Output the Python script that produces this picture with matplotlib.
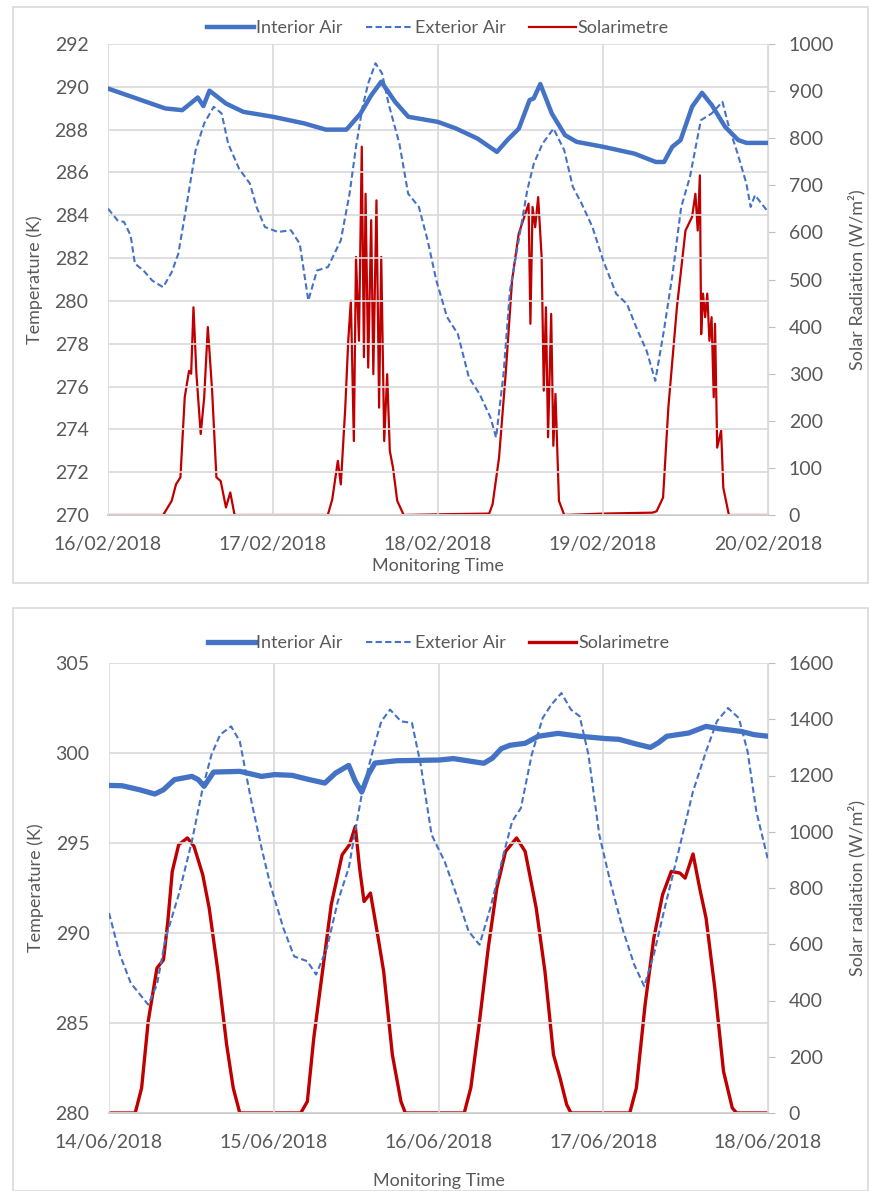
import matplotlib.pyplot as plt
from matplotlib.patches import Rectangle

# ---- top panel: 16/02/2018 - 20/02/2018 (x = days since 16/02 00:00) ----
feb_ticks = ['16/02/2018', '17/02/2018', '18/02/2018', '19/02/2018', '20/02/2018']

feb_int_t = [0, 0.347, 0.45, 0.544, 0.578, 0.615, 0.715, 0.82, 1.0, 1.19, 1.32, 1.445,
             1.53, 1.595, 1.656, 1.74, 1.82, 2.0, 2.11, 2.24, 2.357, 2.42, 2.49, 2.555,
             2.58, 2.62, 2.69, 2.77, 2.84, 3.0, 3.19, 3.32, 3.37, 3.42, 3.47, 3.54, 3.6,
             3.66, 3.74, 3.82, 3.87, 4.0]
feb_int = [289.92, 288.99, 288.91, 289.5, 289.1, 289.82, 289.22, 288.83, 288.6, 288.29,
           288.0, 288.0, 288.75, 289.6, 290.24, 289.3, 288.6, 288.36, 288.05, 287.58,
           286.96, 287.51, 288.05, 289.38, 289.46, 290.13, 288.75, 287.74, 287.43, 287.2,
           286.88, 286.49, 286.49, 287.2, 287.51, 289.07, 289.72, 289.14, 288.13, 287.51,
           287.38, 287.38]

feb_ext_t = [0, 0.058, 0.097, 0.137, 0.163, 0.215, 0.268, 0.334, 0.386, 0.426, 0.478,
             0.531, 0.583, 0.641, 0.689, 0.728, 0.794, 0.86, 0.9, 0.951, 1.03, 1.109,
             1.162, 1.214, 1.267, 1.333, 1.411, 1.464, 1.503, 1.543, 1.577, 1.621, 1.661,
             1.7, 1.766, 1.819, 1.884, 1.937, 1.99, 2.055, 2.12, 2.187, 2.252, 2.318,
             2.352, 2.397, 2.436, 2.489, 2.541, 2.581, 2.634, 2.7, 2.765, 2.817, 2.87,
             2.936, 3.001, 3.08, 3.145, 3.21, 3.264, 3.317, 3.369, 3.422, 3.474, 3.527,
             3.593, 3.658, 3.724, 3.763, 3.816, 3.869, 3.895, 3.921, 4.0]
feb_ext = [284.31, 283.76, 283.69, 283.06, 281.74, 281.42, 280.95, 280.64, 281.34, 282.2,
           284.55, 287.04, 288.29, 289.07, 288.75, 287.35, 286.18, 285.48, 284.39, 283.45,
           283.22, 283.3, 282.67, 280.02, 281.42, 281.58, 282.83, 285.01, 287.2, 289.07,
           290.16, 291.1, 290.63, 289.22, 287.35, 285.01, 284.39, 282.83, 280.95, 279.24,
           278.46, 276.43, 275.65, 274.56, 273.62, 276.58, 280.48, 282.83, 285.17, 286.42,
           287.35, 288.05, 287.04, 285.33, 284.55, 283.45, 281.89, 280.33, 279.86, 278.61,
           277.68, 276.27, 278.61, 281.27, 284.39, 285.79, 288.44, 288.75, 289.3, 288.13,
           286.88, 285.48, 284.39, 284.94, 284.16]

feb_sol_t = [0, 0.334, 0.386, 0.412, 0.439, 0.465, 0.491, 0.504, 0.518, 0.536, 0.562,
             0.583, 0.605, 0.631, 0.657, 0.683, 0.715, 0.741, 0.767,
             1.332, 1.359, 1.393, 1.411, 1.438, 1.456, 1.472, 1.49, 1.503, 1.521, 1.538,
             1.551, 1.561, 1.577, 1.595, 1.608, 1.627, 1.643, 1.656, 1.674, 1.692, 1.708,
             1.727, 1.753, 1.792,
             2.1, 2.31, 2.331, 2.37, 2.41, 2.449, 2.489, 2.523, 2.549, 2.56, 2.573, 2.589,
             2.607, 2.628, 2.641, 2.654, 2.667, 2.686, 2.699, 2.712, 2.733, 2.765,
             3.0, 3.3, 3.325, 3.364, 3.396, 3.448, 3.5, 3.54, 3.56, 3.574, 3.587, 3.595,
             3.606, 3.619, 3.632, 3.645, 3.658, 3.671, 3.679, 3.692, 3.716, 3.729, 3.763,
             4.0]
feb_sol = [0, 0, 30, 65, 80, 250, 306, 300, 441, 299, 172, 250, 399, 264, 80, 72, 16, 48, 0,
           0, 33, 115, 65, 228, 370, 455, 157, 548, 370, 782, 335, 682, 313, 626, 299,
           668, 228, 548, 157, 299, 136, 101, 30, 0,
           2, 3, 23, 122, 299, 498, 597, 633, 661, 406, 654, 611, 675, 548, 264, 441, 165,
           427, 147, 257, 30, 0,
           3, 5, 8, 37, 228, 441, 604, 633, 682, 604, 721, 384, 470, 420, 470, 370, 420,
           250, 406, 143, 179, 58, 0, 0]

# ---- bottom panel: 14/06/2018 - 18/06/2018 ----
jun_ticks = ['14/06/2018', '15/06/2018', '16/06/2018', '17/06/2018', '18/06/2018']

jun_int_t = [0, 0.08, 0.185, 0.278, 0.331, 0.397, 0.503, 0.542, 0.577, 0.635, 0.794,
             0.926, 1.005, 1.11, 1.217, 1.31, 1.376, 1.455, 1.495, 1.534, 1.574, 1.614,
             1.746, 2.005, 2.09, 2.275, 2.328, 2.381, 2.434, 2.526, 2.606, 2.725, 2.857,
             3.016, 3.095, 3.2, 3.286, 3.333, 3.386, 3.519, 3.624, 3.704, 3.836, 3.915, 4.0]
jun_int = [298.2, 298.18, 297.96, 297.72, 297.96, 298.52, 298.7, 298.52, 298.15, 298.94,
           298.98, 298.7, 298.8, 298.76, 298.52, 298.33, 298.89, 299.31, 298.43, 297.83,
           298.8, 299.44, 299.57, 299.61, 299.69, 299.43, 299.72, 300.24, 300.43, 300.54,
           300.93, 301.09, 300.93, 300.8, 300.76, 300.5, 300.31, 300.56, 300.93, 301.11,
           301.48, 301.35, 301.2, 301.02, 300.93]

jun_ext_t = [0, 0.066, 0.132, 0.238, 0.291, 0.344, 0.423, 0.503, 0.569, 0.622, 0.675,
             0.741, 0.794, 0.86, 0.926, 0.979, 1.058, 1.124, 1.204, 1.257, 1.323, 1.389,
             1.455, 1.534, 1.6, 1.653, 1.706, 1.772, 1.839, 1.892, 1.958, 2.037, 2.116,
             2.183, 2.249, 2.315, 2.394, 2.447, 2.5, 2.566, 2.632, 2.685, 2.746, 2.804,
             2.857, 2.91, 2.976, 3.042, 3.122, 3.188, 3.249, 3.307, 3.373, 3.452, 3.545,
             3.624, 3.69, 3.757, 3.823, 3.876, 3.929, 4.0]
jun_ext = [291.11, 288.8, 287.22, 286.02, 287.13, 289.72, 292.13, 295.09, 298.06, 299.91,
           301.02, 301.48, 300.65, 297.5, 294.72, 292.69, 290.28, 288.7, 288.43, 287.69,
           289.17, 291.76, 293.61, 297.69, 300.09, 301.76, 302.41, 301.76, 301.67, 299.35,
           295.46, 293.98, 291.94, 290.09, 289.35, 291.39, 294.35, 296.2, 296.94, 299.91,
           301.94, 302.69, 303.33, 302.41, 302.04, 299.91, 295.46, 292.87, 290.09, 288.24,
           287.04, 288.8, 291.39, 294.35, 297.87, 300.09, 301.76, 302.5, 301.94, 300.09,
           296.76, 294.07]

jun_sol_t = [0, 0.159, 0.198, 0.238, 0.291, 0.331, 0.357, 0.384, 0.423, 0.476, 0.516,
             0.569, 0.608, 0.661, 0.714, 0.754, 0.794,
             1.164, 1.204, 1.243, 1.296, 1.349, 1.415, 1.46, 1.495, 1.521, 1.548, 1.587,
             1.627, 1.667, 1.72, 1.772, 1.799,
             2.156, 2.196, 2.249, 2.302, 2.354, 2.407, 2.474, 2.526, 2.593, 2.646, 2.698,
             2.738, 2.778, 2.804,
             3.161, 3.201, 3.254, 3.307, 3.36, 3.413, 3.466, 3.497, 3.545, 3.585, 3.624,
             3.677, 3.73, 3.783, 3.81, 4.0]
jun_sol = [0, 0, 89, 326, 515, 545, 681, 859, 954, 978, 948, 847, 729, 504, 243, 89, 0,
           0, 41, 267, 504, 741, 918, 954, 1019, 871, 752, 782, 646, 504, 207, 41, 0,
           0, 89, 326, 587, 800, 930, 978, 930, 729, 504, 207, 124, 30, 0,
           0, 89, 385, 622, 776, 859, 853, 835, 921, 800, 693, 444, 148, 18, 0, 0]

BLUE = '#4472C4'
RED = '#C00000'
GREY = '#595959'
GRID = '#D9D9D9'

plt.rcParams['font.family'] = ['Lato', 'DejaVu Sans']
plt.rcParams['font.size'] = 13
plt.rcParams['text.color'] = GREY
plt.rcParams['axes.labelcolor'] = GREY
plt.rcParams['xtick.color'] = GREY
plt.rcParams['ytick.color'] = GREY

W, H = 869, 1191
fig = plt.figure(figsize=(W / 100, H / 100), dpi=100)

# outer chart frames
for (x0, y0, x1, y1) in [(13, 7, 868, 583), (13, 608, 868, 1191)]:
    fig.patches.append(Rectangle((x0 / W, 1 - y1 / H), (x1 - x0) / W, (y1 - y0) / H,
                                 transform=fig.transFigure, fill=False,
                                 edgecolor=GRID, linewidth=1.2))


def panel(rect, t_int, v_int, t_ext, v_ext, t_sol, v_sol, ylim, ystep, y2lim, y2step,
          ticks, y2label, sol_lw, int_lw, legend_y, xlab_pad):
    ax = fig.add_axes(rect)
    ax2 = ax.twinx()
    # temperatures on top of the solar line
    ax2.set_zorder(0)
    ax.set_zorder(1)
    ax.patch.set_visible(False)

    l1, = ax.plot(t_int, v_int, color=BLUE, lw=int_lw, solid_joinstyle='round')
    l2, = ax.plot(t_ext, v_ext, color=BLUE, lw=1.5, ls=(0, (3, 1.6)))
    l3, = ax2.plot(t_sol, v_sol, color=RED, lw=sol_lw)

    ax.set_xlim(0, 4)
    ax.set_ylim(*ylim)
    ax.set_yticks(list(range(ylim[0], ylim[1] + 1, ystep)))
    ax.set_xticks(range(5))
    ax.set_xticklabels(ticks)
    ax2.set_ylim(*y2lim)
    ax2.set_yticks(list(range(y2lim[0], y2lim[1] + 1, y2step)))

    for a in (ax, ax2):
        for s in a.spines.values():
            s.set_visible(False)
    ax2.spines['right'].set_visible(True)
    ax2.spines['right'].set_color(GRID)
    ax2.spines['bottom'].set_visible(True)
    ax2.spines['bottom'].set_color('#BFBFBF')
    ax2.spines['bottom'].set_linewidth(1.2)

    ax.grid(True, color=GRID, lw=1.2)
    ax.set_axisbelow(True)
    ax.tick_params(axis='y', length=0, pad=14, labelsize=14)
    ax.tick_params(axis='x', length=0, pad=15, labelsize=14)
    ax2.tick_params(axis='y', length=5, color='#BFBFBF', pad=10, labelsize=14)

    ax.set_ylabel('Temperature (K)', fontsize=13, labelpad=8)
    ax2.set_ylabel(y2label, fontsize=13, labelpad=10)
    ax.set_xlabel('Monitoring Time', fontsize=13, labelpad=xlab_pad)

    ax.legend([l1, l2, l3], ['Interior Air', 'Exterior Air', 'Solarimetre'],
              loc='center', bbox_to_anchor=(0.5, legend_y), ncol=3, frameon=False,
              handlelength=2.6, handletextpad=0.1, columnspacing=1.3, fontsize=13)
    return ax, ax2


panel([108 / W, 1 - 515 / H, 660 / W, 471 / H], feb_int_t, feb_int, feb_ext_t, feb_ext,
      feb_sol_t, feb_sol, (270, 292), 2, (0, 1000), 100, feb_ticks,
      'Solar Radiation (W/m²)', 1.6, 3.2, 1 + 16 / 471, 4)
panel([109 / W, 1 - 1113 / H, 659 / W, 450 / H], jun_int_t, jun_int, jun_ext_t, jun_ext,
      jun_sol_t, jun_sol, (280, 305), 5, (0, 1600), 200, jun_ticks,
      'Solar radiation (W/m²)', 2.4, 3.8, 1 + 20 / 450, 16)

fig.savefig('out.png', dpi=100)
